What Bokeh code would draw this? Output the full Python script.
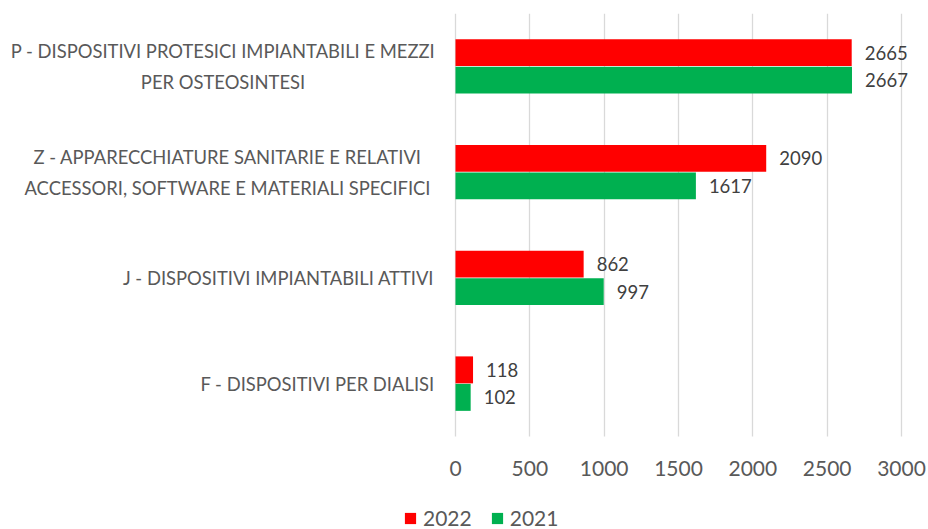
from bokeh.plotting import figure
from bokeh.models import ColumnDataSource, Range1d, Legend, LegendItem
from bokeh.core.properties import value
from bokeh.embed import file_html
from bokeh.resources import INLINE

categories = [
    "P - DISPOSITIVI PROTESICI IMPIANTABILI E MEZZI\nPER OSTEOSINTESI",
    "Z - APPARECCHIATURE SANITARIE E RELATIVI\nACCESSORI, SOFTWARE E MATERIALI SPECIFICI",
    "J - DISPOSITIVI IMPIANTABILI ATTIVI",
    "F - DISPOSITIVI PER DIALISI",
]
values_2022 = [2665, 2090, 862, 118]
values_2021 = [2667, 1617, 997, 102]
series_names = ["2022", "2021"]
x_ticks = [0, 500, 1000, 1500, 2000, 2500, 3000]

# style: approximate pixel width of each category label block (lines are centred in it)
label_block_px = [423, 414, 312, 234]

RED = "#FF0000"
GREEN = "#00B050"
TXT = "#595959"
FONT = "Lato"

n = len(categories)
pos = [n - 1 - i for i in range(n)]          # first category at the top
off = 0.13                                    # half the offset between the two bars of a group
h = 0.255                                     # bar thickness (category units)
label_gap = 21

src = ColumnDataSource(dict(
    cat=categories,
    pos=pos,
    y22=[v + off for v in pos],
    y21=[v - off for v in pos],
    v22=values_2022,
    v21=values_2021,
    l22=[str(v) for v in values_2022],
    l21=[str(v) for v in values_2021],
    zero=[0] * n,
    cat_off=[-(label_gap + w / 2) for w in label_block_px],
))

# pixel layout of the reference: value 0 at x=455, 3000 at x=901; bands from y=13 to y=436
W, H = 928, 529
x0_px, x3000_px = 455, 901
top_px, bottom_px = 13, 436
ppu_x = (x3000_px - x0_px) / 3000
ppu_y = (bottom_px - top_px) / n
x_start = -x0_px / ppu_x
x_end = 3000 + (W - x3000_px) / ppu_x
y_top = n - 0.5
y_bottom = y_top - (H - top_px) / ppu_y

p = figure(
    width=W, height=H,
    x_range=Range1d(x_start, x_end), y_range=Range1d(y_bottom, y_top),
    y_axis_location=None,
    output_backend="svg", toolbar_location=None,
    min_border_left=0, min_border_right=0, min_border_top=top_px, min_border_bottom=0,
)

r22 = p.hbar(y="y22", right="v22", left=0, height=h, source=src,
             fill_color=RED, line_color=None)
r21 = p.hbar(y="y21", right="v21", left=0, height=h, source=src,
             fill_color=GREEN, line_color=None)

for col, ycol, lab in (("v22", "y22", "l22"), ("v21", "y21", "l21")):
    p.text(x=col, y=ycol, text=lab, source=src,
           x_offset=13, text_align="left", text_baseline="middle",
           text_font=value(FONT), text_font_size="18.5px", text_color="#404040")

# category labels, lines centred, block ending against the value axis
p.text(x="zero", y="pos", text="cat", source=src,
       x_offset="cat_off", text_align="center", text_baseline="middle",
       text_font=value(FONT), text_font_size="18.4px", text_color=TXT,
       text_line_height=1.4)

p.outline_line_color = None
p.background_fill_color = None
for g in p.grid:
    if g.dimension == 1:
        g.visible = False
p.xgrid.grid_line_color = "#D9D9D9"
p.xgrid.grid_line_width = 1.3
p.xgrid.cross_bounds = (-0.5, n - 0.5)

p.xaxis.ticker = x_ticks
p.xaxis.fixed_location = -0.5
p.xaxis.axis_line_color = None
p.xaxis.major_tick_line_color = None
p.xaxis.minor_tick_line_color = None
p.xaxis.major_label_standoff = 18
p.xaxis.major_label_text_font = FONT
p.xaxis.major_label_text_font_size = "21px"
p.xaxis.major_label_text_color = TXT

legend = Legend(
    items=[LegendItem(label=series_names[0], renderers=[r22]),
           LegendItem(label=series_names[1], renderers=[r21])],
    location=(403, -1), orientation="horizontal",
    glyph_width=14, glyph_height=14, label_standoff=6, spacing=18,
    padding=0, margin=0, border_line_color=None, background_fill_alpha=0,
    label_text_font=FONT, label_text_font_size="21px", label_text_color=TXT,
)
p.add_layout(legend, "center")

open("out.html", "w").write(file_html(p, INLINE))
